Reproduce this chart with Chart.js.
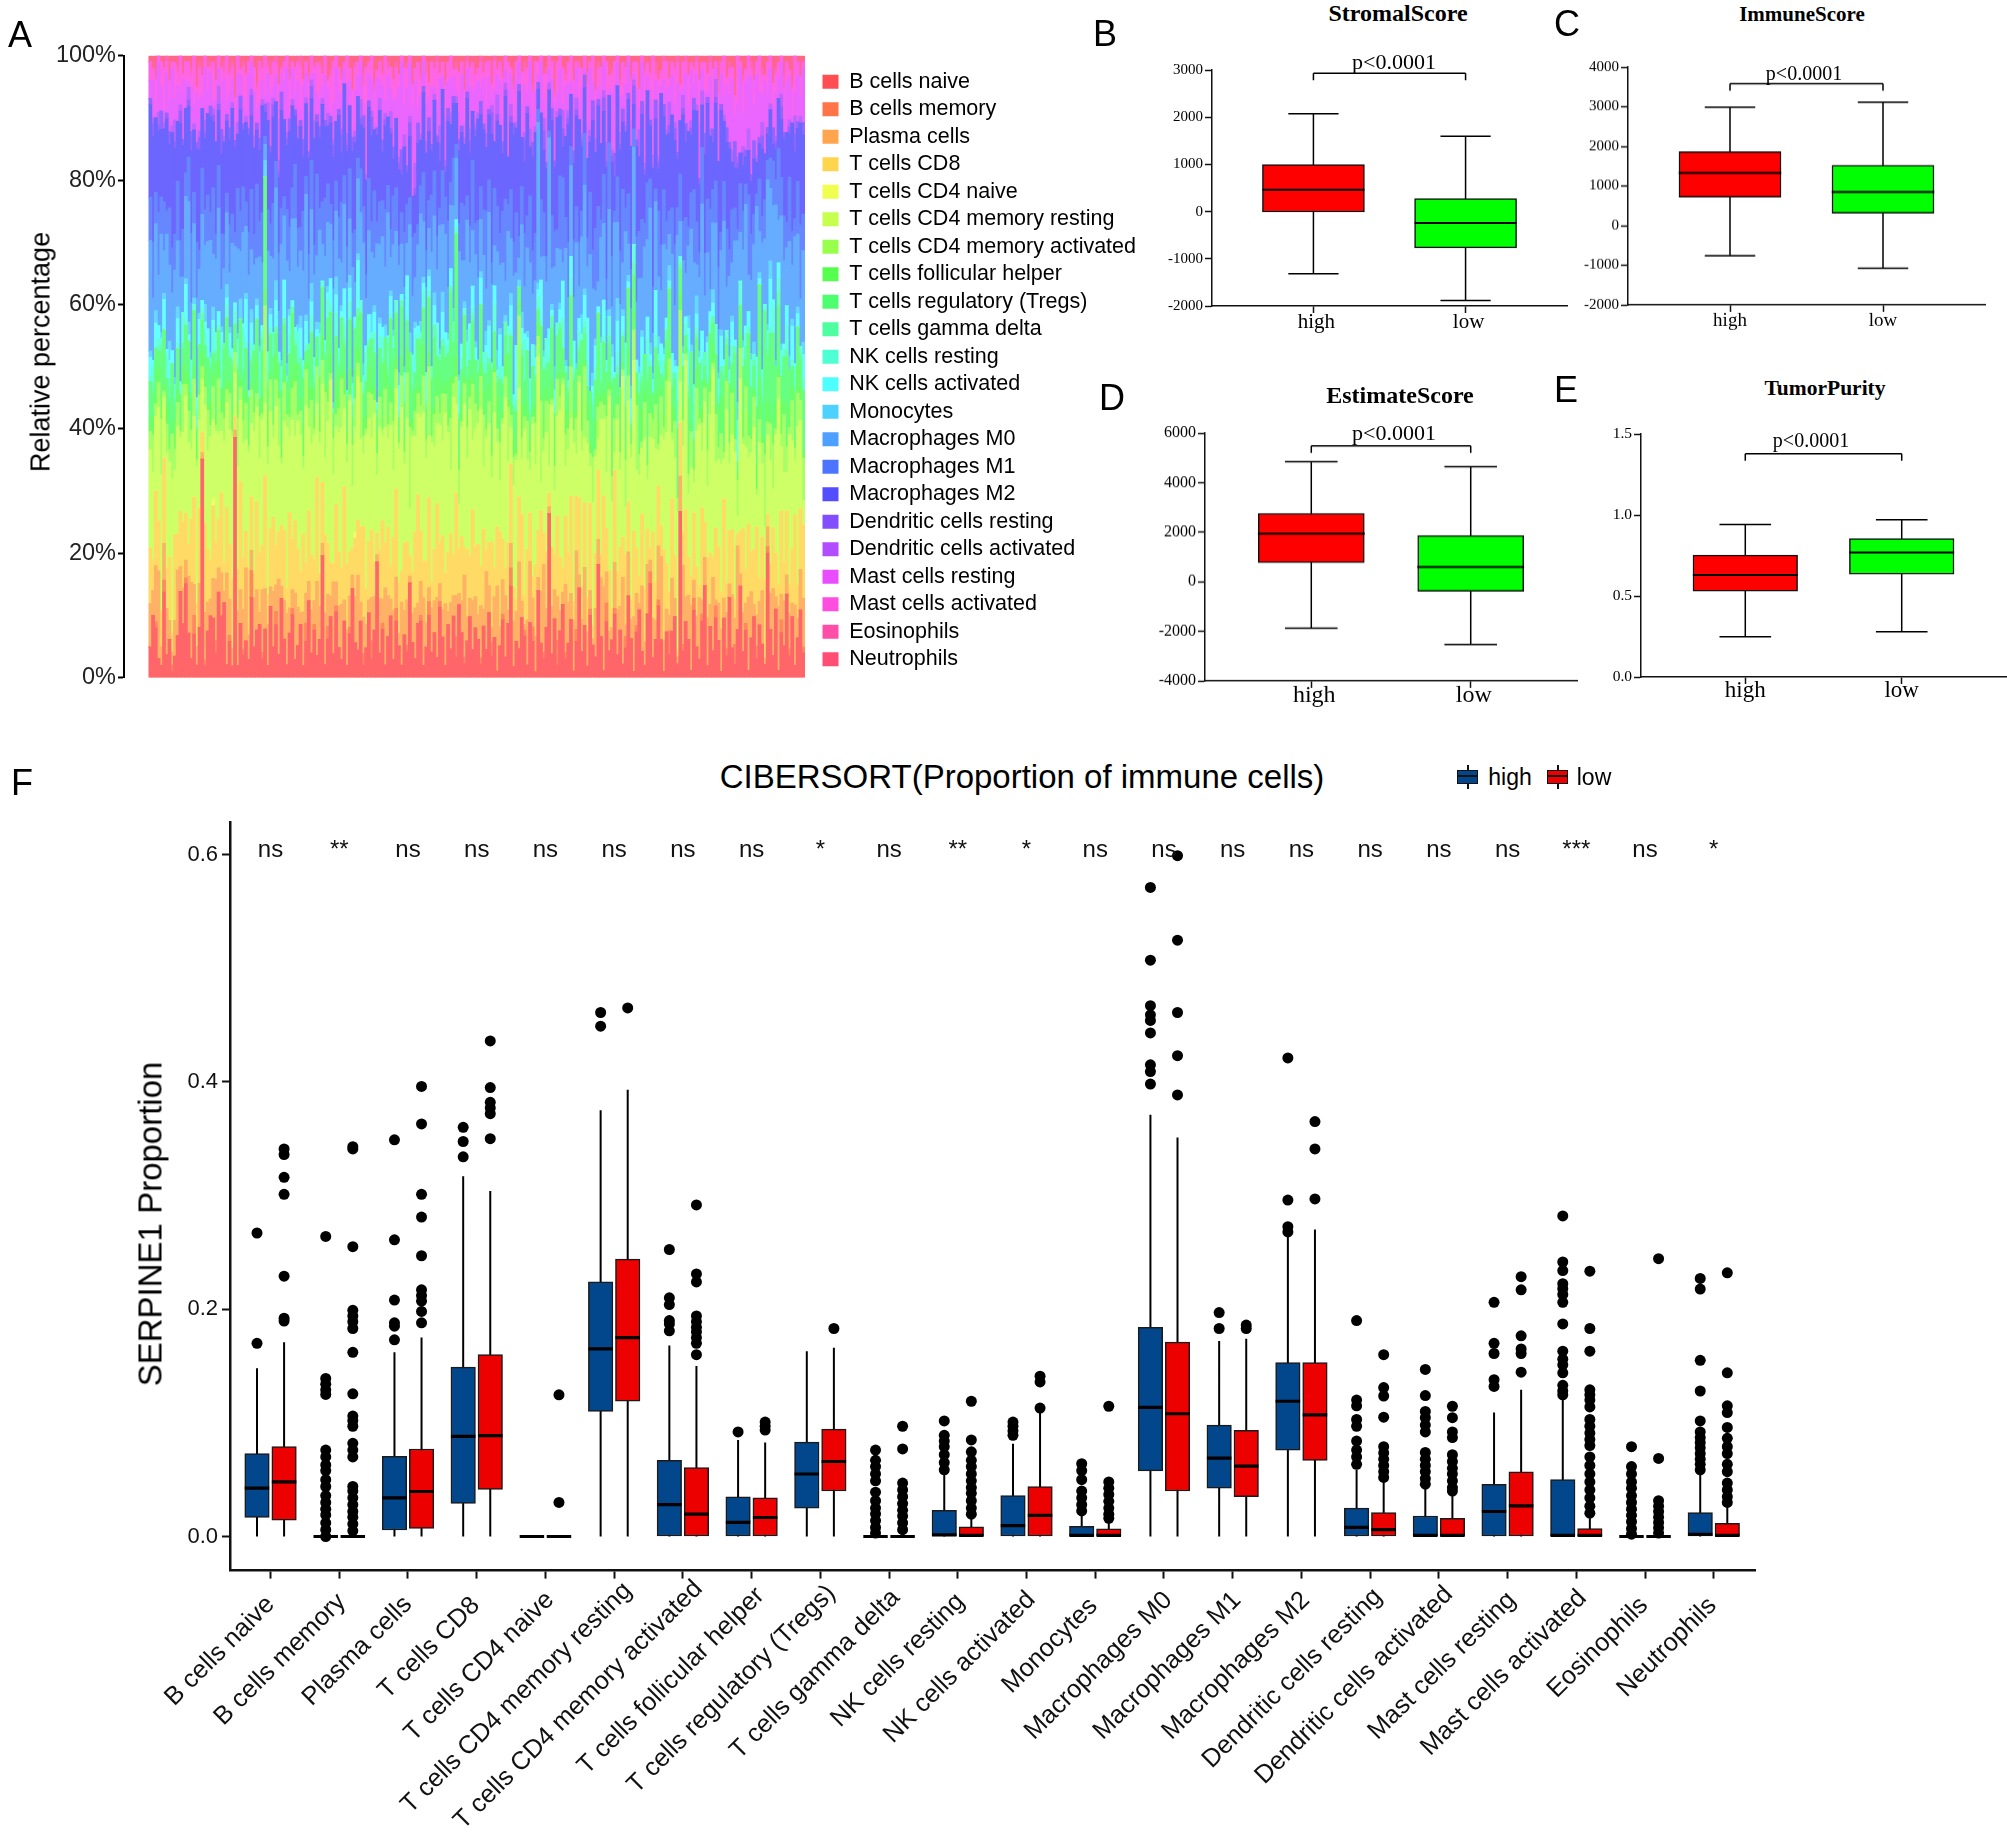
<!DOCTYPE html>
<html>
<head>
<meta charset="utf-8">
<title>SERPINE1 immune panels</title>
<script src="https://cdn.jsdelivr.net/npm/chart.js@4/dist/chart.umd.js"></script>
<style>
    html, body { margin: 0; padding: 0; background: #fff; }
    #page { position: relative; width: 2007px; height: 1836px; overflow: hidden; font-family: "Liberation Sans", Arial, sans-serif; color: #000; }
    #page canvas { position: absolute; }
    .txt { position: absolute; white-space: nowrap; transform: translate(-50%, -50%); line-height: 1; }
    .serif { font-family: "Liberation Serif", "Times New Roman", serif; }
    .key { position: absolute; width: 21px; height: 14px; border: 1.5px solid #111; box-sizing: border-box; }
    .key::before { content: ''; position: absolute; left: -1px; right: -1px; top: 4px; height: 2px; background: #111; }
    .stem { position: absolute; width: 2px; height: 24px; background: #111; }
</style>
</head>
<body>
<div id="page"></div>
<script>
// Panel A: cell types and the estimated share of each one per sample column
const cellTypes = ['B cells naive', 'B cells memory', 'Plasma cells', 'T cells CD8', 'T cells CD4 naive', 'T cells CD4 memory resting', 'T cells CD4 memory activated', 'T cells follicular helper', 'T cells regulatory (Tregs)', 'T cells gamma delta', 'NK cells resting', 'NK cells activated', 'Monocytes', 'Macrophages M0', 'Macrophages M1', 'Macrophages M2', 'Dendritic cells resting', 'Dendritic cells activated', 'Mast cells resting', 'Mast cells activated', 'Eosinophils', 'Neutrophils'];
const bCellsNaive = [5,10,8,3,2,14,4,6,1,3, 7,14,9,16,7,3,7,2,8,33, 2,8,11,9,4,14,10,13,2,6, 2,34,2,8,4,6,3,12,5,7, 9,3,6,2,11,5,8,4,13,6, 2,7,10,3,5,9,2,6,12,4, 8,3,7,20,2,6,9,4,11,5, 3,8,2,7,13,6,4,9,2,5, 10,3,7,16,4,8,2,6,11,3, 9,5,2,7,4,14,6,3,8,10, 2,5,9,4,7,3,12,6,2,8, 5,9,3,13,7,2,6,10,4,8, 6,2,9,4,12,3,7,1,5,10, 3,8,15,2,6,4,11,7,2,9, 5,1,13,6,3,8,24,4,10,2, 7,12,3,5,9,1,6,14,4,8, 2,10,5,3,18,7,1,9,4,6, 11,3,8,2,5,13,6,1,7,10, 4,2,9,16,3,6,12,5,1,8, 3,7,10,2,28,4,9,6,1,11, 5,3,8,13,2,7,4,10,6,1, 9,3,12,5,2,8,15,4,7,1, 6,10,3,9,5,2,19,8,4,11, 1,7,5,13,3,9,2,6,10,4];
const bCellsMemory = [0,0,1,0,0,2,0,0,1,0, 0,0,0,1,0,0,3,0,0,0, 1,0,0,0,2,0,0,0,0,1, 0,0,0,0,1,0,0,4,0,0, 0,1,0,0,0,0,2,0,0,0, 0,0,1,0,0,0,0,3,0,0, 1,0,0,0,0,2,0,0,1,0, 0,0,0,1,0,0,0,0,2,0, 0,3,0,0,0,1,0,0,0,0, 2,0,0,0,1,0,0,0,0,1, 0,0,2,0,0,0,1,0,0,0, 0,0,3,0,0,1,0,0,0,0, 0,1,0,0,0,2,0,0,0,1, 0,0,3,0,0,0,0,1,0,0, 2,0,0,0,1,0,0,0,0,4, 0,0,1,0,0,0,2,0,0,0, 0,1,0,0,0,0,0,3,0,0, 1,0,0,0,2,0,0,0,1,0, 0,0,0,2,0,0,1,0,0,0, 3,0,0,0,0,1,0,0,0,2, 0,0,1,0,0,0,0,2,0,0, 0,1,0,0,3,0,0,0,1,0, 0,0,2,0,0,0,1,0,0,0, 0,2,0,0,1,0,0,0,0,1];
const plasmaCells = [7,4,9,14,3,6,8,3,2,5, 11,4,6,3,9,12,5,3,7,1, 8,5,3,6,10,4,7,2,14,6, 3,1,9,5,7,12,4,3,8,6, 2,10,5,7,3,9,4,13,2,6, 8,4,3,11,6,2,9,5,3,7, 4,10,6,2,8,5,3,12,4,7, 9,3,6,5,2,8,11,3,6,4, 2,7,5,1,9,4,12,6,3,8, 5,2,10,4,7,1,5,8,3,6, 11,4,2,7,5,9,3,4,10,2, 8,3,6,2,5,12,4,3,7,5, 4,8,3,11,5,2,7,13,3,6, 9,2,4,8,5,12,3,1,7,10, 4,6,2,9,14,3,1,8,5,7, 3,2,11,6,4,8,13,2,5,9, 6,3,1,7,4,10,12,5,3,2, 8,6,4,13,2,7,3,9,5,1, 10,4,7,2,6,3,9,11,5,4, 2,8,3,1,6,12,4,7,9,3, 5,10,2,4,8,3,11,1,6,7, 3,5,2,9,4,14,2,6,3,10, 7,2,5,4,8,1,3,6,12,2, 9,4,7,3,5,2,10,3,6,8];
const tCellsCd8 = [9,5,12,8,6,14,7,10,3,12, 6,9,11,8,5,10,14,7,12,3, 15,9,7,11,6,8,13,5,10,9, 12,2,7,16,9,6,11,8,4,13, 10,7,14,5,9,12,6,8,10,11, 4,15,8,12,9,7,13,5,11,9, 7,14,6,10,12,8,5,3,13,9, 6,16,11,7,4,10,8,12,15,6, 9,11,5,3,8,13,7,10,6,12, 14,8,5,11,9,3,7,12,16,9, 6,10,13,4,8,14,7,11,5,9, 12,6,15,8,10,4,11,7,13,8, 11,6,14,3,8,12,5,9,15,7, 4,10,13,6,2,9,16,5,11,8, 3,12,7,14,5,9,2,10,6,13, 8,4,11,7,15,3,9,12,5,10, 6,14,2,8,11,4,13,7,9,3, 16,5,10,6,12,8,3,14,7,4, 11,9,5,2,13,6,10,4,15,8, 3,12,7,1,9,5,14,6,4,11, 8,2,13,5,10,7,3,12,9,6, 15,4,8,11,3,2,7,13,5,10, 6,9,14,4,8,12,2,5,11,7, 3,13,6,10,4,8,15,5,9,12];
const tCellsCd4Naive = [0,0,0,0,0,0,0,0,0,0, 0,0,0,0,0,0,0,0,0,0, 0,0,0,1,0,0,0,0,0,0, 0,0,0,0,0,0,0,0,0,0, 0,0,0,0,0,0,0,0,0,0, 0,0,0,0,0,0,0,0,0,0, 0,0,0,0,0,0,0,0,0,0, 0,0,0,0,0,1,0,0,0,0, 0,0,0,0,0,0,0,0,0,0, 0,0,0,0,0,0,0,0,0,0, 0,0,0,0,0,0,0,0,0,0, 0,0,0,0,0,0,0,0,0,0, 0,0,0,0,0,0,0,0,0,0, 0,0,0,0,0,0,0,0,0,0, 0,0,0,0,0,0,0,0,0,0, 0,0,0,0,0,0,0,0,0,0, 0,0,0,0,0,0,0,0,0,0, 0,0,0,0,0,0,0,0,0,0, 0,0,0,0,0,0,0,0,0,0, 0,0,0,0,0,0,0,0,0,0, 0,0,0,0,0,0,0,0,0,0, 0,0,0,0,0,0,0,0,0,0, 0,0,0,0,0,0,0,0,0,0, 0,0,0,0,0,0,0,0,0,0];
const tCellsCd4Resting = [16,14,12,18,22,10,20,15,24,9, 18,12,15,20,16,11,13,22,14,8, 20,17,22,12,18,14,10,21,16,19, 24,6,17,12,20,15,19,11,23,14, 16,20,9,22,18,13,21,15,10,17, 25,12,19,14,20,23,11,26,13,18, 21,10,24,16,12,19,27,15,13,20, 23,11,17,24,9,18,21,14,12,26, 19,15,22,8,20,14,18,13,25,11, 16,21,26,13,19,7,23,15,12,20, 24,17,9,22,16,12,20,14,26,18, 11,23,13,8,17,21,15,24,10,19, 19,24,11,16,22,9,27,13,8,20, 25,12,6,18,23,15,10,28,14,7, 21,17,26,5,13,19,4,24,11,16, 22,30,8,15,12,25,7,18,21,10, 27,6,19,14,5,23,11,9,26,17, 3,20,13,24,8,16,22,28,12,15, 10,25,7,19,14,21,6,12,18,23, 27,9,16,20,7,13,24,10,15,5, 22,26,8,17,12,19,28,11,14,21, 6,24,10,16,22,3,25,13,18,9, 15,20,5,23,11,8,12,17,7,19, 26,10,14,6,21,16,9,24,13,4];
const tCellsCd4Activated = [3,6,2,4,9,1,5,2,7,3, 4,1,8,2,5,3,6,1,4,2, 3,7,2,5,1,9,3,4,2,6, 1,3,8,2,4,6,1,5,3,2, 7,1,12,3,5,2,4,8,1,6, 2,3,5,9,1,4,2,6,3,7, 1,5,2,4,10,3,1,6,2,4, 8,2,3,1,6,5,2,9,3,1, 4,7,2,3,5,1,6,2,4,8, 3,1,5,2,7,12,1,4,3,2, 6,3,10,1,5,4,2,7,3,1, 9,2,4,6,1,3,5,2,8,4, 2,5,9,1,4,3,7,2,6,1, 3,8,2,5,1,10,4,2,6,3, 1,7,3,14,2,5,9,1,4,6, 2,1,5,3,8,2,6,1,3,11, 4,2,7,1,5,3,2,9,1,4, 6,2,3,1,8,4,2,5,10,3, 1,6,2,4,3,7,1,5,2,9, 3,1,6,2,12,4,1,3,5,2, 7,1,4,2,6,3,1,8,2,5, 1,4,3,7,2,6,5,1,9,3, 2,5,1,4,3,11,2,6,8,1, 3,2,9,4,1,6,2,5,3,7];
const tCellsFollicular = [2,3,1,2,4,1,3,2,1,4, 2,1,3,2,5,1,2,3,1,2, 3,1,4,2,1,3,2,5,1,2, 3,1,2,1,4,2,3,1,2,5, 1,3,2,6,1,2,4,1,3,2, 1,4,2,3,1,2,5,1,3,2, 2,1,3,4,1,2,3,1,6,2, 1,3,2,4,1,5,2,1,3,2, 4,1,2,3,1,2,4,1,3,5, 2,1,3,2,4,1,2,3,1,2, 5,1,2,4,1,3,2,1,2,3, 7,1,3,2,4,1,2,3,1,2, 1,2,4,1,3,2,1,5,2,1, 3,1,2,4,1,2,6,1,3,2, 1,3,2,1,4,2,1,3,8,1, 2,1,4,2,1,3,1,2,5,1, 3,2,1,4,2,1,2,3,1,6, 2,1,3,1,2,4,1,3,2,1, 5,2,1,3,1,2,4,1,2,3, 1,4,2,1,3,2,1,5,1,2, 3,1,2,1,4,2,3,1,2,6, 1,2,3,1,5,1,2,4,1,3, 2,1,4,7,1,2,3,1,2,4, 1,5,2,1,3,2,1,4,2,1];
const tCellsTregs = [6,4,8,3,7,9,5,6,10,2, 7,5,3,8,6,4,9,2,7,5, 4,8,6,3,9,5,2,7,10,4, 8,3,6,9,4,7,5,3,8,6, 2,7,14,4,6,9,3,5,8,7, 4,6,10,3,7,5,8,2,6,9, 5,3,7,8,4,11,6,3,7,5, 9,4,6,8,3,7,5,10,4,6, 3,8,5,2,7,9,4,6,12,5, 7,3,8,6,4,10,5,3,7,9, 6,4,8,5,11,3,7,6,4,8, 15,5,18,7,4,9,6,3,8,5, 5,9,3,7,4,10,6,2,8,5, 3,7,11,4,6,2,9,5,8,3, 6,4,2,12,7,3,5,9,1,6, 8,4,6,3,10,5,7,2,9,4, 3,8,5,6,13,2,7,4,6,9, 5,3,8,4,7,10,2,6,3,8, 4,6,11,5,3,7,9,2,6,4, 8,3,5,9,4,6,2,7,10,3, 5,8,4,2,7,6,3,9,5,4, 10,3,6,4,8,2,5,7,3,11, 6,4,9,16,5,20,7,14,18,6, 9,4,7,13,5,3,8,6,4,10];
const tCellsGammaDelta = [0,1,0,0,1,0,0,2,0,1, 0,0,1,0,0,1,0,0,0,1, 0,0,1,0,2,0,0,1,0,0, 1,0,0,0,1,0,0,1,0,0, 0,2,0,1,0,0,1,0,0,1, 0,0,1,0,0,2,0,0,1,0, 1,0,0,0,1,0,0,1,0,0, 0,1,0,0,2,0,1,0,0,0, 1,0,0,1,0,0,0,1,0,2, 0,0,1,0,0,0,1,0,0,1, 0,1,0,0,2,0,0,1,0,0, 1,0,0,1,0,0,2,0,1,0, 0,0,1,0,1,0,0,1,0,0, 2,0,0,1,0,0,1,0,0,1, 0,1,0,0,0,1,0,2,0,0, 1,0,0,1,0,0,0,1,0,1, 0,0,2,0,0,1,0,0,1,0, 0,1,0,0,1,0,0,2,0,0, 1,0,1,0,0,0,1,0,0,2, 0,0,1,0,1,0,0,1,0,0, 1,0,0,2,0,0,1,0,0,1, 0,1,0,0,1,0,0,0,2,0, 0,1,0,0,1,0,1,0,0,0, 2,0,0,1,0,0,1,0,1,0];
const nkResting = [1,3,0,2,1,0,4,1,0,2, 1,0,5,1,0,2,1,3,0,1, 2,0,1,4,0,1,3,0,2,1, 0,2,1,0,6,1,0,2,1,0, 3,1,0,2,1,4,0,1,2,0, 1,3,0,1,5,0,2,1,0,3, 1,0,2,1,0,3,1,0,4,1, 0,2,1,3,0,1,0,2,1,5, 0,1,3,0,2,1,0,4,1,0, 2,1,0,3,1,0,2,6,0,1, 3,0,1,2,0,4,1,0,2,1, 0,3,1,0,2,1,0,5,1,0, 2,0,1,3,0,1,5,0,2,1, 0,3,1,0,2,0,1,7,0,1, 3,0,2,1,0,4,1,0,1,2, 0,5,1,0,3,1,0,2,0,1, 4,0,1,2,0,6,1,0,3,1, 0,2,0,1,4,0,1,3,0,2, 1,0,5,1,0,2,1,0,3,0, 1,2,0,4,1,0,2,1,0,6, 1,0,3,0,1,2,0,5,1,0, 2,1,0,3,0,1,4,0,2,1, 0,1,3,0,2,1,0,1,5,0, 2,0,1,4,0,1,3,0,1,2];
const nkActivated = [3,1,4,2,0,5,1,3,2,0, 4,2,0,6,1,3,0,2,4,1, 2,5,0,1,3,2,6,0,1,3, 2,1,4,0,2,7,1,3,0,2, 5,1,0,3,2,0,4,1,2,6, 0,3,1,2,0,5,1,4,0,2, 3,1,6,0,2,1,4,0,3,2, 1,5,0,2,3,1,7,0,2,1, 4,0,3,1,2,5,0,1,3,2, 0,4,1,2,6,0,3,1,2,0, 1,5,2,0,3,1,0,4,2,1, 3,0,1,6,2,0,4,1,3,2, 0,4,2,1,6,0,3,1,5,2, 0,1,4,2,9,0,3,1,2,5, 0,3,1,7,2,0,4,1,3,0, 2,6,0,1,3,5,0,2,1,4, 8,0,2,3,1,0,5,2,0,3, 1,4,0,2,6,1,3,0,2,1, 5,0,3,1,2,7,0,4,1,2, 0,3,1,5,0,2,1,9,0,3, 2,1,4,0,6,1,2,0,3,5, 1,0,2,4,1,6,0,3,1,2, 4,0,5,1,2,0,3,8,1,0, 2,4,1,3,0,5,1,2,0,4];
const monocytes = [1,0,2,0,1,1,0,3,0,1, 2,0,0,1,2,0,1,0,1,0, 3,0,1,2,0,0,1,0,2,1, 0,0,1,3,0,1,0,2,0,1, 1,0,2,0,1,0,3,0,1,0, 2,1,0,0,1,2,0,1,0,3, 0,1,2,0,0,1,0,1,3,0, 1,0,0,2,1,0,1,0,2,0, 0,3,1,0,1,0,2,0,1,1, 0,2,0,1,0,3,0,1,0,2, 1,0,1,0,2,0,1,3,0,1, 0,2,0,1,0,1,2,0,0,1, 0,1,0,2,1,0,0,3,1,0, 1,0,2,0,0,1,3,0,1,0, 0,2,1,0,1,0,0,1,4,0, 1,0,1,2,0,0,1,0,3,1, 0,0,2,1,0,1,0,0,1,2, 0,3,0,1,0,1,2,0,0,1, 1,0,0,2,1,0,3,0,1,0, 2,0,1,0,0,1,0,2,1,0, 3,1,0,0,1,0,2,0,1,1, 0,0,2,1,0,3,0,1,0,0, 1,2,0,1,0,0,1,3,0,1, 0,1,0,0,2,1,0,1,0,2];
const macrophagesM0 = [18,10,14,8,16,7,20,12,9,15, 11,17,6,14,19,9,12,16,7,13, 10,15,20,8,12,17,6,13,11,9, 18,8,14,7,16,11,19,9,13,6, 15,10,2,17,8,12,14,7,19,10, 16,6,13,18,9,11,15,20,7,12, 14,9,17,6,13,10,8,19,11,15, 7,12,18,9,16,6,11,14,20,8, 13,10,7,22,12,15,9,18,6,14, 11,17,8,13,5,16,10,7,12,19, 9,14,6,18,12,8,21,10,16,7, 11,15,9,22,13,6,18,10,8,14, 13,8,17,6,20,11,7,15,10,18, 5,14,9,21,12,3,16,8,13,19, 7,11,24,4,15,9,28,6,17,12, 8,3,18,10,14,7,20,5,12,16, 9,22,13,7,4,17,11,8,15,6, 26,10,14,7,19,5,12,16,9,13, 8,18,11,23,6,14,10,7,17,12, 4,15,9,19,6,13,7,11,16,20, 5,12,18,8,14,3,10,17,7,13, 21,6,12,9,15,27,8,14,18,5, 11,16,24,7,19,10,22,12,17,25, 6,20,13,9,16,8,21,11,7,15];
const macrophagesM1 = [7,9,5,10,6,8,4,9,7,5, 10,6,8,4,7,11,5,9,3,7, 6,8,5,10,4,7,9,6,3,8, 5,2,10,6,8,4,7,9,5,11, 6,8,1,7,5,9,4,10,6,3, 8,7,5,9,6,4,10,3,7,8, 5,11,4,7,9,6,3,8,5,7, 10,4,6,8,5,9,3,7,6,4, 8,5,10,3,7,6,9,4,5,8, 7,3,5,9,6,4,10,7,3,5, 8,6,4,9,7,5,3,8,6,10, 4,7,2,5,9,8,4,6,10,5, 9,5,8,11,6,3,10,7,5,9, 12,4,8,6,10,3,7,9,5,11, 6,8,2,10,7,4,1,9,6,3, 11,14,5,8,3,9,6,7,4,8, 5,10,6,9,12,3,7,5,10,8, 2,6,9,11,4,8,6,3,10,7, 9,4,8,5,7,2,11,6,9,5, 3,7,10,4,8,6,9,3,5,12, 7,4,8,6,9,11,5,7,10,3, 6,8,4,9,5,2,8,6,3,11, 7,5,2,9,4,6,3,5,8,4, 10,6,7,4,9,5,3,8,11,6];
const macrophagesM2 = [15,17,12,13,11,12,16,10,18,12, 10,19,14,11,8,13,10,15,16,9, 12,14,17,10,15,9,13,16,11,14, 18,12,9,15,10,13,16,11,14,8, 12,17,3,15,11,14,9,13,16,12, 10,15,13,8,14,17,9,12,15,10, 18,7,13,16,11,9,12,14,10,17, 8,13,16,10,12,15,9,7,13,16, 11,14,9,12,15,8,13,10,17,6, 11,12,6,14,5,9,7,6,12,8, 13,16,10,7,11,14,8,12,4,15, 10,8,6,13,11,9,16,12,7,14, 16,11,14,9,12,18,8,13,17,10, 15,7,11,19,14,20,9,12,16,8, 13,17,3,15,10,14,6,16,11,18, 9,5,13,17,8,12,15,19,10,7, 14,8,20,11,16,13,9,18,7,15, 6,12,17,10,13,15,19,4,14,11, 16,8,13,9,18,11,7,20,12,15, 10,14,17,7,9,16,12,15,8,13, 18,11,6,14,16,10,7,13,17,20, 9,12,15,8,6,10,5,7,4,6, 8,9,5,6,10,7,4,8,3,5, 7,9,12,14,6,16,11,8,15,13];
const dendriticResting = [1,2,0,1,3,0,1,2,0,1, 0,2,1,0,1,3,0,1,2,0, 1,0,2,1,0,1,4,0,1,2, 0,1,0,2,1,0,1,3,0,1, 2,0,1,0,1,2,0,1,3,0, 1,2,0,1,0,1,3,0,1,2, 0,1,2,0,1,0,1,2,0,1, 3,0,1,0,2,1,0,1,2,0, 1,3,0,1,0,2,1,0,1,2, 0,1,4,0,1,2,0,1,3,0, 1,0,2,1,0,1,3,0,1,2, 0,1,0,2,1,0,1,2,0,1, 0,2,1,0,1,3,0,1,0,2, 1,0,1,2,0,1,0,4,1,0, 2,0,1,0,3,1,0,2,1,0, 1,3,0,1,0,2,1,0,1,2, 0,1,3,0,1,0,2,1,0,1, 4,0,1,2,0,1,0,3,1,0, 2,1,0,1,0,3,1,0,2,0, 1,0,2,1,0,1,3,0,1,2, 0,1,0,3,1,0,2,1,0,1, 0,2,1,0,4,1,0,2,1,0, 1,3,0,1,2,0,1,0,3,1, 0,2,1,0,1,0,3,1,0,2];
const dendriticActivated = [0,1,0,2,0,1,0,0,1,3, 0,1,0,0,2,0,1,0,1,0, 2,0,0,1,0,3,0,1,0,0, 1,0,2,0,0,1,0,1,2,0, 0,1,0,3,0,1,0,2,0,0, 1,0,1,0,2,0,0,1,0,1, 3,0,0,1,0,2,0,1,0,0, 1,0,2,0,0,1,0,3,0,1, 0,1,0,0,2,0,1,0,3,0, 0,1,0,2,0,1,0,4,0,1, 0,2,0,0,1,0,3,0,1,0, 2,0,1,0,0,1,0,2,0,1, 1,0,0,2,0,1,0,3,0,0, 1,0,2,0,1,0,0,1,0,3, 0,1,0,0,2,0,1,0,0,1, 0,3,0,1,0,0,2,0,1,0, 0,1,0,2,0,0,1,3,0,1, 0,0,2,0,1,0,0,1,0,4, 0,1,0,0,2,0,1,0,0,1, 3,0,1,0,0,2,0,0,1,0, 1,0,2,0,0,1,0,3,0,0, 1,0,0,2,0,1,0,1,0,3, 0,0,1,0,2,0,0,1,0,1, 0,2,0,0,1,0,3,0,1,0];
const mastResting = [3,6,1,8,4,2,7,5,9,3, 6,2,10,4,1,7,3,8,5,2, 9,4,6,1,7,3,5,10,2,6, 4,2,8,3,5,1,9,4,7,2, 6,3,1,5,8,2,4,7,3,6, 10,1,5,3,7,2,9,4,6,1, 8,3,5,2,7,4,1,6,9,3, 5,2,8,4,1,7,3,6,2,10, 4,5,1,7,3,9,2,6,4,8, 3,11,14,5,12,8,15,13,2,7, 4,6,3,9,1,5,8,2,7,4, 6,3,1,5,8,2,4,7,3,6, 5,2,8,4,6,1,9,3,7,4, 2,10,5,1,7,3,6,8,2,11, 4,6,1,9,3,7,2,5,10,3, 6,1,8,4,2,9,5,3,7,1, 6,10,3,5,2,8,4,7,1,9, 12,3,6,2,7,5,4,1,8,3, 6,10,2,5,8,3,9,1,4,7, 2,6,3,10,5,1,8,4,7,2, 5,9,3,6,1,7,4,2,8,5, 3,6,7,12,4,9,14,5,10,7, 15,6,13,8,4,11,5,6,4,7, 3,5,2,8,6,1,4,7,3,9];
const mastActivated = [3,2,5,1,4,7,2,3,1,5, 2,6,1,4,3,2,8,1,5,3, 2,4,1,6,3,2,5,1,7,3, 2,4,3,1,5,6,2,1,4,3, 7,2,5,1,3,4,2,6,1,3, 2,5,1,4,3,7,1,2,5,3, 1,4,6,2,3,1,5,7,2,4, 3,1,5,2,6,4,2,1,3,8, 2,4,5,1,3,2,7,1,4,3, 5,2,1,6,3,1,4,2,7,3, 1,5,2,4,3,6,1,2,5,3, 4,1,3,7,2,5,1,3,4,2, 2,4,1,6,3,2,5,1,3,7, 2,4,1,5,3,1,6,2,4,1, 3,5,2,1,4,7,2,3,1,5, 2,6,1,3,4,2,1,5,3,2, 7,1,4,2,3,5,1,6,2,3, 4,1,2,5,3,1,6,2,4,3, 1,5,2,3,7,1,4,2,3,5, 1,2,6,3,1,4,2,5,1,3, 2,7,1,4,3,2,5,1,3,2, 6,1,4,2,3,8,1,5,2,3, 1,4,2,6,3,1,5,2,4,3, 2,1,5,3,1,4,6,2,3,1];
const eosinophils = [0,0,1,0,0,0,1,0,0,0, 1,0,0,0,0,1,0,0,1,0, 0,0,1,0,0,0,0,2,0,0, 1,0,0,0,1,0,0,0,0,1, 0,0,0,1,0,0,1,0,0,0, 0,1,0,0,0,2,0,0,1,0, 0,0,1,0,0,0,1,0,0,0, 1,0,0,0,0,1,0,0,2,0, 0,0,1,0,0,0,0,1,0,0, 1,0,0,0,1,0,0,0,0,1, 0,2,0,0,0,1,0,0,1,0, 0,0,1,0,0,0,1,0,0,0, 0,1,0,0,0,0,1,0,0,1, 0,0,0,1,0,0,0,2,0,0, 1,0,0,0,0,1,0,0,1,0, 0,0,1,0,0,0,0,1,0,0, 2,0,0,0,1,0,0,0,0,1, 0,0,1,0,0,0,1,0,0,0, 0,1,0,0,0,2,0,0,1,0, 0,0,0,1,0,0,1,0,0,0, 1,0,0,0,0,1,0,0,2,0, 0,0,1,0,0,0,0,1,0,0, 1,0,0,0,1,0,0,0,0,1, 0,0,2,0,0,1,0,0,0,0];
const neutrophils = [1,2,3,0,1,2,0,4,1,1, 2,0,3,1,1,2,0,5,1,3, 0,2,1,1,4,0,2,1,0,3, 1,6,0,2,1,3,1,0,2,4, 1,2,0,1,3,1,0,5,2,1, 0,3,1,2,1,0,4,1,3,0, 2,1,1,3,0,4,2,1,0,2, 3,1,0,2,5,1,1,0,3,2, 1,0,4,2,1,3,0,1,2,4, 1,3,0,2,1,0,5,2,1,3, 0,1,4,1,2,0,3,1,4,1, 0,2,1,3,1,5,0,2,1,3, 2,0,3,1,1,4,0,2,1,3, 0,1,2,5,1,0,3,1,2,0, 4,1,1,0,3,2,0,1,6,1, 0,2,3,1,0,4,1,1,2,0, 3,1,0,5,1,2,0,1,3,2, 1,0,4,1,2,0,3,1,1,5, 0,2,1,3,0,1,4,2,0,1, 3,1,2,0,5,1,0,3,1,2, 0,4,1,1,3,0,2,1,4,1, 0,3,1,2,6,0,1,3,2,0, 1,4,1,0,2,3,1,0,5,2, 1,0,3,1,2,4,0,1,3,1];
const cellSeries = [bCellsNaive, bCellsMemory, plasmaCells, tCellsCd8, tCellsCd4Naive, tCellsCd4Resting, tCellsCd4Activated, tCellsFollicular, tCellsTregs, tCellsGammaDelta, nkResting, nkActivated, monocytes, macrophagesM0, macrophagesM1, macrophagesM2, dendriticResting, dendriticActivated, mastResting, mastActivated, eosinophils, neutrophils];
const percentTicks = [0, 20, 40, 60, 80, 100];

// Panels B-E: [lower whisker, q1, median, q3, upper whisker]
const groupLabels = ['high', 'low'];
const stromalHigh = [-1316, -8, 461, 998, 2072];
const stromalLow = [-1883, -770, -242, 275, 1594];
const immuneHigh = [-762, 720, 1327, 1864, 2985];
const immuneLow = [-1078, 311, 848, 1525, 3113];
const estimateHigh = [-1877, 767, 1940, 2760, 4845];
const estimateLow = [-2529, -386, 600, 1866, 4640];
const purityHigh = [0.248, 0.53, 0.63, 0.752, 0.942];
const purityLow = [0.279, 0.635, 0.769, 0.854, 0.971];

// Panel F: box statistics per cell type
const sigLabels = ['ns', '**', 'ns', 'ns', 'ns', 'ns', 'ns', 'ns', '*', 'ns', '**', '*', 'ns', 'ns', 'ns', 'ns', 'ns', 'ns', 'ns', '***', 'ns', '*'];
const highQ1 = [.0167, 0, .0057, .029, 0, .11, 0, 0, .025, 0, 0, 0, 0, .0578, .0425, .076, 0, 0, 0, 0, 0, 0];
const highMedian = [.0425, 0, .034, .088, 0, .165, .028, .0124, .055, 0, .0015, .0095, .001, .1136, .069, .119, .008, .001, .022, .001, 0, .002];
const highQ3 = [.073, 0, .0706, .149, 0, .224, .067, .035, .083, 0, .023, .036, .009, .184, .098, .153, .025, .018, .046, .05, 0, .021];
const highWhiskerLow = [0, 0, 0, 0, 0, 0, 0, 0, 0, 0, 0, 0, 0, 0, 0, 0, 0, 0, 0, 0, 0, 0];
const highWhiskerTop = [.148, 0, .162, .317, 0, .375, .168, .085, .163, 0, .054, .0816, .0196, .371, .172, .264, .0587, .043, .109, .122, 0, .054];
const lowQ1 = [.0143, 0, .007, .0415, 0, .119, 0, 0, .04, 0, 0, 0, 0, .04, .035, .067, 0, 0, 0, 0, 0, 0];
const lowMedian = [.048, 0, .0396, .0888, 0, .175, .0196, .0167, .066, 0, .001, .0186, .001, .108, .062, .107, .006, .001, .027, .001, 0, .001];
const lowQ3 = [.079, 0, .077, .16, 0, .244, .0606, .034, .0945, 0, .0086, .044, .0067, .171, .0935, .153, .021, .016, .057, .007, 0, .0115];
const lowWhiskerLow = [0, 0, 0, 0, 0, 0, 0, 0, 0, 0, 0, 0, 0, 0, 0, 0, 0, 0, 0, 0, 0, 0];
const lowWhiskerTop = [.171, 0, .175, .304, 0, .393, .15, .0826, .166, 0, .017, .109, .012, .351, .174, .27, .048, .038, .129, .016, 0, .0267];
const highOutliers = [
    [.267, .17],
    [.264, .139, .134, .129, .125, .076, .07, .063, .058, .05, .044, .036, .03, .024, .019, .012, .006, 0],
    [.349, .261, .208, .188, .185, .173],
    [.36, .3475, .334],
    [],
    [.461, .449],
    [.2525, .21, .204, .19, .187, .181],
    [.092],
    [],
    [.076, .067, .0615, .055, .049, .039, .0315, .025, .02, .014, .008, .003],
    [.1017, .089, .084, .079, .072, .065, .0587],
    [.1007, .097, .093, .089],
    [.064, .058, .05, .04, .034, .028, .0225],
    [.571, .507, .467, .459, .454, .443, .415, .409, .398],
    [.197, .183],
    [.421, .296, .2725, .268],
    [.19, .12, .115, .103, .097, .084, .076, .07, .0635],
    [.147, .124, .11, .1045, .098, .092, .074, .068, .0625, .057, .051, .046],
    [.206, .17, .161, .138, .132],
    [.282, .2415, .234, .2224, .218, .213, .206, .187, .163, .156, .151, .144, .133, .128, .1246],
    [.079, .0615, .055, .048, .0425, .036, .03, .024, .0186, .013, .007, .002],
    [.227, .2177, .155, .128, .1017, .092, .087, .0826, .078, .073, .068, .0635, .0587]
];
const lowOutliers = [
    [.341, .336, .316, .301, .229, .192, .1895],
    [.343, .341, .255, .199, .194, .189, .183, .162, .1255, .106, .102, .097, .082, .076, .07, .044, .04, .034, .028, .022, .017, .011, .005],
    [.396, .363, .301, .281, .247, .217, .212, .207, .198, .188],
    [.436, .395, .382, .377, .372, .35],
    [.1246, .03],
    [.465],
    [.2917, .231, .224, .194, .189, .184, .18, .175, .17, .16],
    [.1007, .097, .0936],
    [.183],
    [.097, .077, .047, .041, .035, .029, .023, .018, .012, .006],
    [.119, .085, .0745, .067, .0615, .055, .049, .043, .038, .0315, .025, .0196],
    [.141, .136, .113],
    [.1146, .048, .0425, .037, .031, .025, .0196, .016],
    [.599, .5246, .461, .423, .3885],
    [.186, .183],
    [.365, .341, .297],
    [.16, .131, .1236, .105, .079, .0735, .068, .0625, .057, .052],
    [.1146, .1045, .092, .087, .072, .066, .06, .055, .049, .043, .04],
    [.2286, .217, .1766, .165, .161, .1446],
    [.2334, .183, .163, .129, .1246, .12, .114, .103, .097, .091, .0854, .08, .07, .0625, .055, .048, .041, .034, .0267, .0205],
    [.2444, .0687, .0315, .0267, .022, .017, .0124, .0076, .003],
    [.232, .144, .115, .109, .096, .0864, .079, .073, .0635, .057, .047, .041, .035, .03]
];

const cellColors = ['#FF4D52', '#FF7547', '#FFA54D', '#FFD54D', '#F0FF4D', '#C6FF4D', '#98FF4D', '#55FF4D', '#4DFF6E', '#4DFFA0', '#4DFFD2', '#4DFFFF', '#4DD2FF', '#4DA0FF', '#4D74FF', '#544DFF', '#814DFF', '#B04DFF', '#E84DFF', '#FF4DE0', '#FF4DA8', '#FF4D74'];
const SANS = '"Liberation Sans", Arial, sans-serif';
const SERIF = '"Liberation Serif", "Times New Roman", serif';

const page = document.getElementById('page');
Chart.defaults.font.family = SANS;
Chart.defaults.color = '#000';
Chart.defaults.devicePixelRatio = 1;

// Create an absolutely positioned canvas inside the page
function addCanvas(left, top, width, height) {
    const canvas = document.createElement('canvas');
    canvas.width = width;
    canvas.height = height;
    canvas.style.left = left + 'px';
    canvas.style.top = top + 'px';
    canvas.style.width = width + 'px';
    canvas.style.height = height + 'px';
    page.appendChild(canvas);
    return canvas;
}

// Place a real text label centred on a page position
function addText(text, x, y, size, opts = {}) {
    const el = document.createElement('div');
    el.className = 'txt' + (opts.serif ? ' serif' : '');
    el.textContent = text;
    el.style.left = x + 'px';
    el.style.top = y + 'px';
    el.style.fontSize = size + 'px';
    if (opts.bold) el.style.fontWeight = 'bold';
    if (opts.rotate) el.style.transform = 'translate(-50%, -50%) rotate(' + opts.rotate + 'deg)';
    page.appendChild(el);
}

// Turn [x1, y1, x2, y2] pieces into one line dataset with gaps between them
function segmentData(pieces) {
    const data = [];
    pieces.forEach(([x1, y1, x2, y2]) => {
        data.push({ x: x1, y: y1 }, { x: x2, y: y2 }, { x: x2, y: null });
    });
    return data;
}

function lineSet(pieces, width, order) {
    return {
        type: 'line',
        data: segmentData(pieces),
        borderColor: '#000',
        borderWidth: width,
        pointRadius: 0,
        tension: 0,
        spanGaps: false,
        order: order
    };
}

// Lighten a hex colour towards white, the stacked bars are paler than the legend keys
function lighten(hex, amount) {
    const channels = [1, 3, 5].map(i => parseInt(hex.slice(i, i + 2), 16));
    const mixed = channels.map(c => Math.round(c + (255 - c) * amount));
    return 'rgb(' + mixed.join(',') + ')';
}

// Panel A: stacked relative percentage bars
function drawComposition() {
    const columns = bCellsNaive.length;
    const totals = bCellsNaive.map((_, j) => cellSeries.reduce((sum, s) => sum + s[j], 0));
    const datasets = cellTypes.map((name, i) => ({
        label: name,
        data: cellSeries[i].map((v, j) => ({ x: j, y: v / totals[j] * 100 })),
        backgroundColor: lighten(cellColors[i], 0.14),
        borderWidth: 0,
        barPercentage: 1,
        categoryPercentage: 1,
        inflateAmount: 0.5
    }));
    const spacing = 656 / columns;
    new Chart(addCanvas(0, 0, 1146, 720), {
        type: 'bar',
        data: { datasets },
        options: {
            responsive: false,
            animation: false,
            events: [],
            layout: { padding: { top: 55.7, bottom: 42.3, left: 0, right: 0 } },
            plugins: {
                title: { display: false },
                tooltip: { enabled: false },
                legend: {
                    position: 'right',
                    align: 'start',
                    maxWidth: 340,
                    title: { display: true, text: ' ', font: { size: 1 }, padding: { top: 0, bottom: 8 } },
                    labels: {
                        boxWidth: 16,
                        boxHeight: 14,
                        padding: 6,
                        font: { size: 21.5 },
                        color: '#111',
                        generateLabels: () => cellTypes.map((name, i) => ({
                            text: name,
                            fillStyle: cellColors[i],
                            strokeStyle: cellColors[i],
                            lineWidth: 0,
                            datasetIndex: i
                        }))
                    }
                }
            },
            scales: {
                x: {
                    type: 'linear',
                    display: false,
                    stacked: true,
                    offset: false,
                    grid: { offset: false },
                    min: -0.5 - 25 / spacing,
                    max: columns - 0.5 + 12 / spacing
                },
                y: {
                    stacked: true,
                    min: 0,
                    max: 100,
                    afterFit: s => { s.width = 124; },
                    afterBuildTicks: s => { s.ticks = percentTicks.map(value => ({ value })); },
                    border: { color: '#000', width: 2 },
                    grid: { drawOnChartArea: false, tickLength: 6, tickColor: '#000', tickWidth: 2 },
                    ticks: { font: { size: 23.5 }, padding: 2, color: '#222', callback: v => v + '%' }
                }
            }
        }
    });
}

// Panels B-E: two-box score plots with a significance bracket
function drawScorePanel(cfg) {
    const [highStats, lowStats] = cfg.stats;
    const whiskers = [];
    const medians = [];
    cfg.stats.forEach((s, x) => {
        whiskers.push([x - cfg.cap, s[0], x + cfg.cap, s[0]]);
        whiskers.push([x, s[0], x, s[4]]);
        whiskers.push([x - cfg.cap, s[4], x + cfg.cap, s[4]]);
        medians.push([x - cfg.half, s[2], x + cfg.half, s[2]]);
    });
    const box = {
        type: 'bar',
        data: [
            { x: 0, y: [highStats[1], highStats[3]] },
            { x: 1, y: [lowStats[1], lowStats[3]] }
        ],
        backgroundColor: ['#FF0000', '#00FF00'],
        borderColor: '#111',
        borderWidth: 1.5,
        borderSkipped: false,
        grouped: false,
        barPercentage: 1,
        categoryPercentage: 1,
        maxBarThickness: cfg.boxWidth,
        order: 2
    };
    const bracket = lineSet([[0, cfg.bracket[1], 0, cfg.bracket[0]], [0, cfg.bracket[0], 1, cfg.bracket[0]], [1, cfg.bracket[0], 1, cfg.bracket[1]]], 1.5, 4);
    const left = cfg.plotLeft - 90;
    const top = cfg.plotTop - 25;
    const width = cfg.plotRight - left + 1;
    const height = cfg.plotBottom - top + 48;
    new Chart(addCanvas(left, top, width, height), {
        type: 'bar',
        data: { datasets: [lineSet(medians, 2, 1), box, lineSet(whiskers, 1.5, 3), bracket] },
        options: {
            responsive: false,
            animation: false,
            events: [],
            layout: { padding: { top: 25, right: 1, bottom: 0, left: 0 } },
            plugins: { legend: { display: false }, tooltip: { enabled: false } },
            scales: {
                x: {
                    type: 'linear',
                    offset: false,
                    min: -2 / 3,
                    max: 5 / 3,
                    afterFit: s => { s.height = 48; },
                    afterBuildTicks: s => { s.ticks = [{ value: 0 }, { value: 1 }]; },
                    border: { color: '#111', width: 1.5 },
                    grid: { offset: false, drawOnChartArea: false, tickLength: 7, tickColor: '#111', tickWidth: 1.5 },
                    ticks: { font: { family: SERIF, size: cfg.xFont }, padding: cfg.xPad, labelOffset: cfg.xShift, maxRotation: 0, callback: v => groupLabels[v] }
                },
                y: {
                    min: cfg.min,
                    max: cfg.max,
                    afterFit: s => { s.width = 90; },
                    afterBuildTicks: s => { s.ticks = cfg.ticks.map(value => ({ value })); },
                    border: { color: '#111', width: 1.5 },
                    grid: { drawOnChartArea: false, tickLength: 7, tickColor: '#111', tickWidth: 1.5 },
                    ticks: { font: { family: SERIF, size: cfg.yFont }, padding: 2, callback: v => cfg.format ? v.toFixed(1) : v }
                }
            }
        }
    });
}

// Significance marks above each group and slanted cell type labels in panel F
const groupTextPlugin = {
    id: 'groupTextPlugin',
    afterDatasetsDraw(chart) {
        const { ctx, scales, chartArea } = chart;
        ctx.save();
        ctx.font = '24px ' + SANS;
        ctx.fillStyle = '#111';
        ctx.textAlign = 'center';
        ctx.textBaseline = 'alphabetic';
        sigLabels.forEach((label, i) => {
            ctx.fillText(label, scales.x.getPixelForValue(i), scales.y.getPixelForValue(0.5976));
        });
        // longer labels slide further past their tick, as in the source figure
        ctx.font = '25.5px ' + SANS;
        ctx.textAlign = 'right';
        ctx.textBaseline = 'middle';
        cellTypes.forEach((label, i) => {
            const slide = (ctx.measureText(label).width - 143) * 0.08;
            ctx.save();
            ctx.translate(scales.x.getPixelForValue(i) + slide, chartArea.bottom + 30 - slide);
            ctx.rotate(-Math.PI / 4);
            ctx.fillText(label, 0, 0);
            ctx.restore();
        });
        ctx.restore();
    }
};

// Panel F: grouped box plots with outliers
function drawBoxPanel() {
    const shift = 0.197;
    const half = 0.178;
    const whiskers = [];
    const medians = [];
    const highBoxes = [];
    const lowBoxes = [];
    const points = [];
    cellTypes.forEach((_, i) => {
        const xh = i - shift;
        const xl = i + shift;
        whiskers.push([xh, highWhiskerLow[i], xh, highWhiskerTop[i]]);
        whiskers.push([xl, lowWhiskerLow[i], xl, lowWhiskerTop[i]]);
        medians.push([xh - half, highMedian[i], xh + half, highMedian[i]]);
        medians.push([xl - half, lowMedian[i], xl + half, lowMedian[i]]);
        highBoxes.push({ x: xh, y: [highQ1[i], highQ3[i]] });
        lowBoxes.push({ x: xl, y: [lowQ1[i], lowQ3[i]] });
        highOutliers[i].forEach(v => points.push({ x: xh, y: v }));
        lowOutliers[i].forEach(v => points.push({ x: xl, y: v }));
    });
    const boxSet = (data, color) => ({
        type: 'bar',
        data,
        backgroundColor: color,
        borderColor: '#1a1a1a',
        borderWidth: 1.5,
        borderSkipped: false,
        grouped: false,
        barPercentage: 1,
        categoryPercentage: 1,
        maxBarThickness: 24.5,
        order: 2
    });
    const outlierSet = {
        type: 'scatter',
        data: points,
        backgroundColor: '#000',
        borderWidth: 0,
        pointRadius: 5.5,
        order: 4
    };
    new Chart(addCanvas(0, 800, 1800, 1036), {
        type: 'bar',
        data: { datasets: [lineSet(medians, 3.2, 1), boxSet(highBoxes, '#02468C'), boxSet(lowBoxes, '#EC0000'), lineSet(whiskers, 2, 3), outlierSet] },
        options: {
            responsive: false,
            animation: false,
            events: [],
            layout: { padding: { top: 22, right: 45, bottom: 0, left: 0 } },
            plugins: { legend: { display: false }, tooltip: { enabled: false } },
            scales: {
                x: {
                    type: 'linear',
                    offset: false,
                    min: -0.59,
                    max: 21.6,
                    afterFit: s => { s.height = 265.4; },
                    afterBuildTicks: s => { s.ticks = cellTypes.map((_, i) => ({ value: i })); },
                    border: { color: '#111', width: 2.5 },
                    grid: { offset: false, drawOnChartArea: false, tickLength: 8, tickColor: '#111', tickWidth: 2 },
                    ticks: { display: false }
                },
                y: {
                    min: -0.03,
                    max: 0.6286,
                    afterFit: s => { s.width = 230; },
                    afterBuildTicks: s => { s.ticks = [0, 0.2, 0.4, 0.6].map(value => ({ value })); },
                    border: { color: '#111', width: 2.5 },
                    grid: { drawOnChartArea: false, tickLength: 8, tickColor: '#111', tickWidth: 2 },
                    ticks: { font: { size: 22 }, color: '#111', padding: 4, callback: v => v.toFixed(1) }
                }
            }
        },
        plugins: [groupTextPlugin]
    });
}

// Small high / low key beside the panel F title
function addBoxKey(x, color, label, textX) {
    const stem = document.createElement('div');
    stem.className = 'stem';
    stem.style.left = (x + 9.5) + 'px';
    stem.style.top = '765px';
    page.appendChild(stem);
    const key = document.createElement('div');
    key.className = 'key';
    key.style.left = x + 'px';
    key.style.top = '770px';
    key.style.background = color;
    page.appendChild(key);
    addText(label, textX, 777, 23);
}

function init() {
    drawComposition();
    drawScorePanel({ stats: [stromalHigh, stromalLow], plotLeft: 1212, plotRight: 1567, plotTop: 70, plotBottom: 306.4, min: -2000, max: 3000, ticks: [-2000, -1000, 0, 1000, 2000, 3000], bracket: [2932, 2785], cap: 0.165, half: 0.335, boxWidth: 102, xFont: 21, xPad: -3, xShift: 3, yFont: 15 });
    drawScorePanel({ stats: [immuneHigh, immuneLow], plotLeft: 1628, plotRight: 1985, plotTop: 67.4, plotBottom: 304.6, min: -2000, max: 4000, ticks: [-2000, -1000, 0, 1000, 2000, 3000, 4000], bracket: [3580, 3405], cap: 0.165, half: 0.335, boxWidth: 102, xFont: 19, xPad: -2, xShift: 0, yFont: 15 });
    drawScorePanel({ stats: [estimateHigh, estimateLow], plotLeft: 1205, plotRight: 1577, plotTop: 433.3, plotBottom: 681, min: -4000, max: 6000, ticks: [-4000, -2000, 0, 2000, 4000, 6000], bracket: [5479, 5200], cap: 0.165, half: 0.335, boxWidth: 106, xFont: 24, xPad: -7, xShift: 3, yFont: 16 });
    drawScorePanel({ stats: [purityHigh, purityLow], plotLeft: 1641, plotRight: 2006, plotTop: 434, plotBottom: 677.4, min: 0, max: 1.5, ticks: [0, 0.5, 1, 1.5], format: true, bracket: [1.378, 1.335], cap: 0.165, half: 0.335, boxWidth: 104.6, xFont: 23, xPad: -7, xShift: 0, yFont: 15.5 });
    drawBoxPanel();

    // Panel letters
    addText('A', 20, 35, 36);
    addText('B', 1105, 34, 36);
    addText('C', 1567, 24, 36);
    addText('D', 1112, 398, 36);
    addText('E', 1566, 390, 36);
    addText('F', 22, 783, 36);

    // Axis titles that sit off the axis centre
    addText('Relative percentage', 41, 352, 27, { rotate: -90 });
    addText('SERPINE1 Proportion', 150, 1224, 33, { rotate: -90 });
    addText('CIBERSORT(Proportion of immune cells)', 1022, 776, 33);

    // Score panel headings and p values
    addText('StromalScore', 1398, 13, 24, { serif: true, bold: true });
    addText('ImmuneScore', 1802, 14, 21, { serif: true, bold: true });
    addText('EstimateScore', 1400, 395, 24, { serif: true, bold: true });
    addText('TumorPurity', 1825, 389, 21.5, { serif: true, bold: true });
    addText('p<0.0001', 1394, 62, 22, { serif: true });
    addText('p<0.0001', 1804, 73, 20, { serif: true });
    addText('p<0.0001', 1394, 433, 22, { serif: true });
    addText('p<0.0001', 1811, 440, 20, { serif: true });

    addBoxKey(1457, '#02468C', 'high', 1510);
    addBoxKey(1547, '#EC0000', 'low', 1594);
}

init();
</script>
</body>
</html>
